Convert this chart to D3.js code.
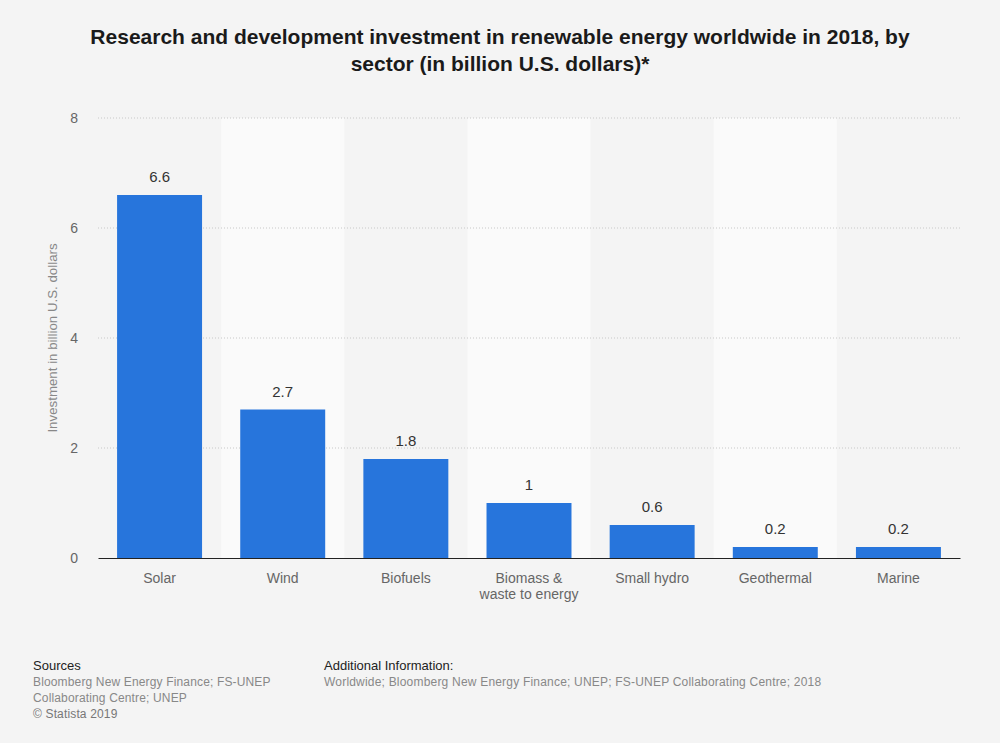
<!DOCTYPE html>
<html>
<head>
<meta charset="utf-8">
<script src="https://cdn.jsdelivr.net/npm/d3@7"></script>
<style>
  body { margin: 0; background: #f4f4f4; }
  text { font-family: "Liberation Sans", Arial, sans-serif; }
</style>
</head>
<body>
<div id="my_chart"></div>
<script>
// data
const categories = ["Solar", "Wind", "Biofuels", "Biomass &\nwaste to energy", "Small hydro", "Geothermal", "Marine"];
const values = [6.6, 2.7, 1.8, 1, 0.6, 0.2, 0.2];
const yTicks = [0, 2, 4, 6, 8];

const W = 1000, H = 743;
const margin = { top: 118, right: 40, bottom: 185, left: 98 },
    width = W - margin.left - margin.right,
    height = H - margin.top - margin.bottom;

const root = d3.select("#my_chart")
    .append("svg")
    .attr("width", W)
    .attr("height", H);

root.append("rect").attr("width", W).attr("height", H).attr("fill", "#f4f4f4");

// title
root.append("text")
    .attr("x", W / 2)
    .attr("text-anchor", "middle")
    .style("font-weight", "bold")
    .style("font-size", "21px")
    .attr("fill", "#1a1a1a")
    .selectAll("tspan")
    .data(["Research and development investment in renewable energy worldwide in 2018, by",
           "sector (in billion U.S. dollars)*"])
    .join("tspan")
    .attr("x", W / 2)
    .attr("y", (d, i) => 44 + i * 27)
    .text(d => d);

const svg = root.append("g")
    .attr("transform", `translate(${margin.left},${margin.top})`);

const x = d3.scaleBand()
    .domain(categories)
    .range([0, width])
    .paddingInner(0.31)
    .paddingOuter(0.155);

const y = d3.scaleLinear()
    .domain([0, 8])
    .range([height, 0]);

// alternating column backgrounds
svg.selectAll(".colbg")
    .data(categories.filter((d, i) => i % 2 === 1))
    .join("rect")
    .attr("x", d => x(d) - x.step() * x.paddingInner() / 2)
    .attr("width", x.step())
    .attr("y", 0)
    .attr("height", height)
    .attr("fill", "#fafafa");

// gridlines
svg.selectAll(".grid")
    .data(yTicks.filter(d => d > 0))
    .join("line")
    .attr("x1", 0).attr("x2", width)
    .attr("y1", d => y(d)).attr("y2", d => y(d))
    .attr("stroke", "#c8c8c8")
    .attr("stroke-dasharray", "1,2");

// Y axis
const yAxis = svg.append("g")
    .call(d3.axisLeft(y).tickValues(yTicks).tickSize(0).tickPadding(20));
yAxis.select(".domain").remove();
yAxis.selectAll("text")
    .style("font-size", "14px")
    .attr("fill", "#666");

root.append("text")
    .attr("transform", `translate(57,${margin.top + height / 2}) rotate(-90)`)
    .attr("text-anchor", "middle")
    .style("font-size", "13.3px")
    .attr("fill", "#888")
    .text("Investment in billion U.S. dollars");

// Bars
svg.selectAll(".bar")
    .data(values)
    .join("rect")
    .attr("x", (d, i) => x(categories[i]))
    .attr("width", x.bandwidth())
    .attr("y", d => y(d))
    .attr("height", d => height - y(d))
    .attr("fill", "#2775dc");

// value labels
svg.selectAll(".val")
    .data(values)
    .join("text")
    .attr("x", (d, i) => x(categories[i]) + x.bandwidth() / 2)
    .attr("y", d => y(d) - 13)
    .attr("text-anchor", "middle")
    .style("font-size", "15px")
    .attr("fill", "#333")
    .text(d => d);

// X axis
const xAxis = svg.append("g")
    .attr("transform", `translate(0,${height})`)
    .call(d3.axisBottom(x).tickSize(0).tickFormat(""));
xAxis.select(".domain").attr("stroke", "#222").attr("stroke-width", 1.2);

svg.selectAll(".xlab")
    .data(categories)
    .join("text")
    .attr("text-anchor", "middle")
    .style("font-size", "14px")
    .attr("fill", "#666")
    .each(function(d) {
        d3.select(this).selectAll("tspan")
            .data(d.split("\n"))
            .join("tspan")
            .attr("x", x(d) + x.bandwidth() / 2)
            .attr("y", (t, i) => height + 25 + i * 16)
            .text(t => t);
    });

// footer
const foot = root.append("g");
foot.append("text").attr("x", 33).attr("y", 670).attr("fill", "#222").style("font-size", "13px").text("Sources");
["Bloomberg New Energy Finance; FS-UNEP", "Collaborating Centre; UNEP", "© Statista 2019"].forEach((t, i) => {
    foot.append("text").attr("x", 33).attr("y", 686 + i * 16)
        .attr("fill", i === 2 ? "#777" : "#888").style("font-size", "12px")
        .style("letter-spacing", "0.15px").text(t);
});
foot.append("text").attr("x", 324).attr("y", 670).attr("fill", "#222").style("font-size", "13px").text("Additional Information:");
foot.append("text").attr("x", 324).attr("y", 686).attr("fill", "#888").style("font-size", "12px")
    .style("letter-spacing", "0.2px")
    .text("Worldwide; Bloomberg New Energy Finance; UNEP; FS-UNEP Collaborating Centre; 2018");
</script>
</body>
</html>
